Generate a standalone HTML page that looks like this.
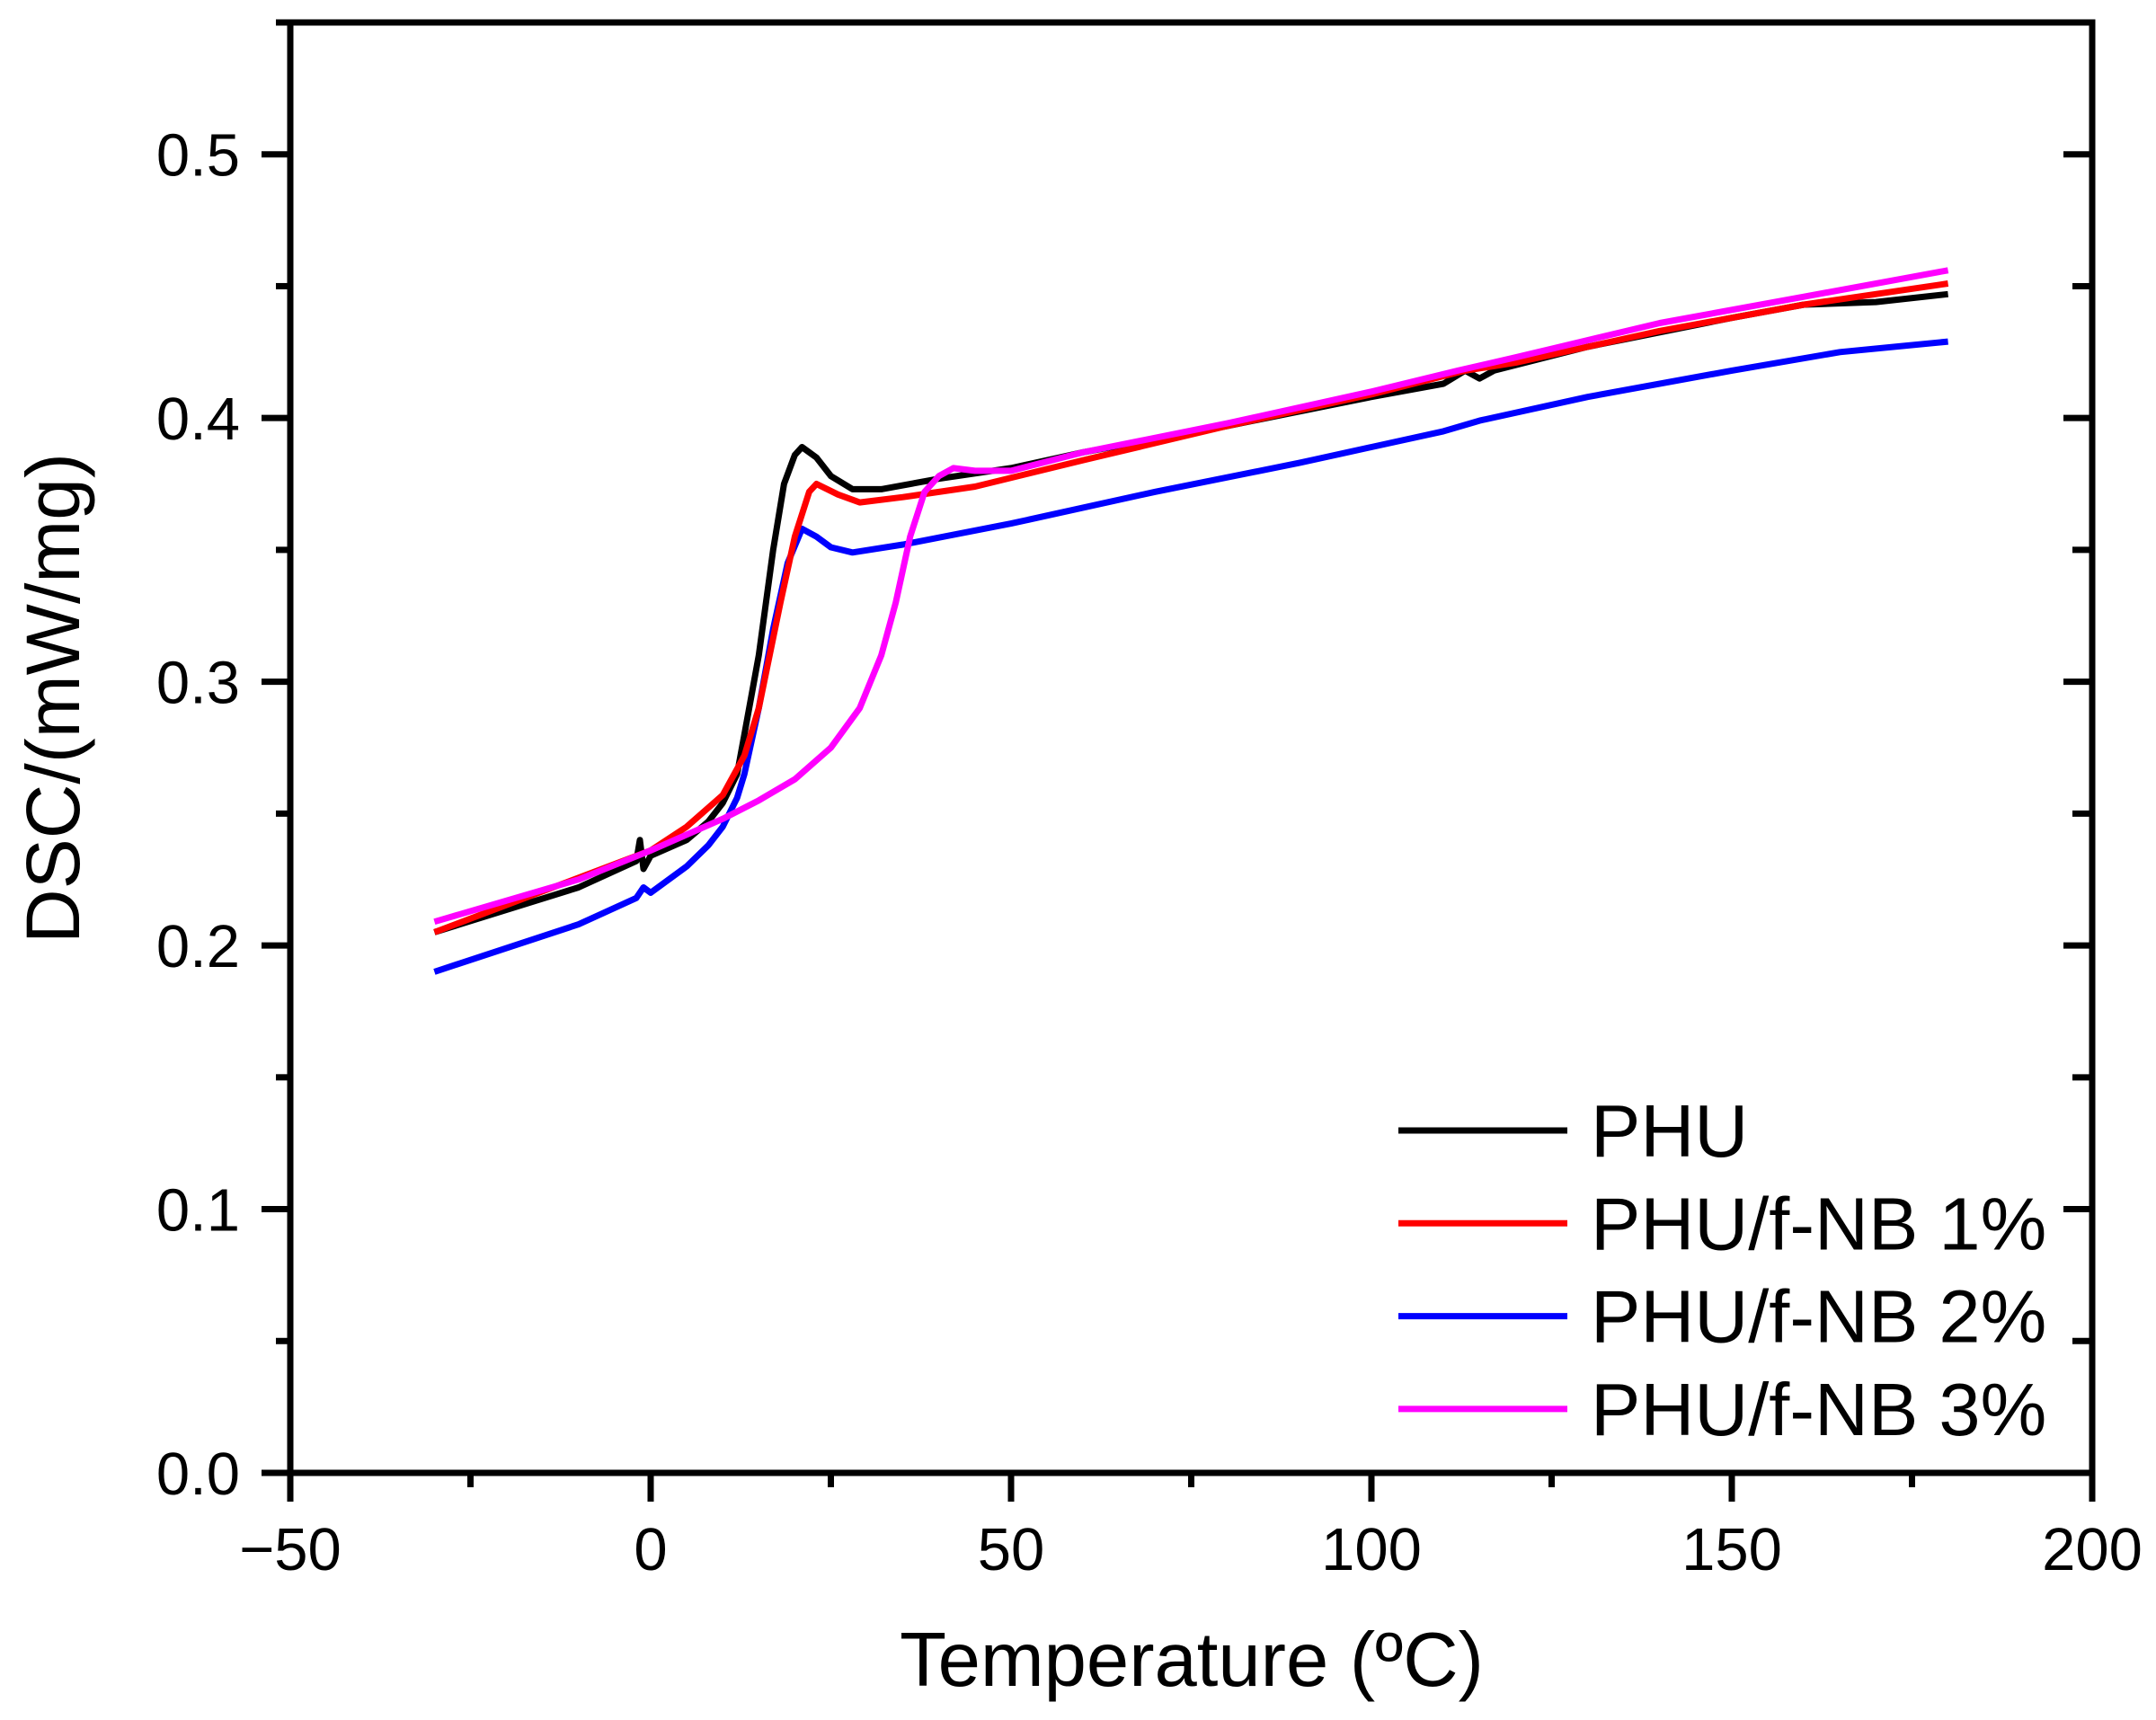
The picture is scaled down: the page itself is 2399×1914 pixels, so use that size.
<!DOCTYPE html>
<html><head><meta charset="utf-8"><style>
html,body{margin:0;padding:0;background:#fff;}
svg{display:block;font-family:"Liberation Sans",Arial,sans-serif;}
</style></head><body>
<svg id="chart" width="2399" height="1914" viewBox="0 0 2399 1914" xmlns="http://www.w3.org/2000/svg">
<g id="marks"></g>
<g id="axes"></g>
<text x="1326" y="1876" font-size="85" text-anchor="middle">Temperature (ºC)</text>
<text transform="translate(88,777) rotate(-90)" font-size="84" text-anchor="middle">DSC/(mW/mg)</text>
<g id="legend"></g>
</svg>
<script>
const xTicks=[-50,0,50,100,150,200];
const yTicks=[0.0,0.1,0.2,0.3,0.4,0.5];
const seriesNames=["PHU","PHU/f-NB 1%","PHU/f-NB 2%","PHU/f-NB 3%"];
const seriesColors=["#000000","#ff0000","#0000ff","#ff00ff"];
const phuT=[-30,-10,-2,-1.5,-1,0,5,8,10,12,13,15,17,18.5,20,21,23,25,28,32,40,50,60,80,100,110,113,115,117,130,150,158,160,170,180];
const phuV=[0.205,0.222,0.232,0.240,0.229,0.234,0.240,0.247,0.254,0.265,0.28,0.31,0.35,0.375,0.386,0.389,0.385,0.378,0.373,0.373,0.377,0.381,0.387,0.397,0.408,0.413,0.418,0.415,0.418,0.427,0.438,0.442,0.443,0.444,0.447];
const nb1T=[-30,0,5,10,13,15,18,20,22,23,26,29,35,45,60,80,100,113,120,140,160,180];
const nb1V=[0.205,0.236,0.245,0.257,0.272,0.29,0.33,0.355,0.372,0.375,0.371,0.368,0.370,0.374,0.384,0.397,0.409,0.418,0.421,0.433,0.443,0.451];
const nb2T=[-30,-10,-2,-1,0,5,8,10,12,13,15,17,19,21,23,25,28,35,50,70,90,100,110,115,130,150,165,180];
const nb2V=[0.190,0.208,0.218,0.222,0.220,0.230,0.238,0.245,0.256,0.265,0.29,0.32,0.345,0.358,0.355,0.351,0.349,0.352,0.360,0.372,0.383,0.389,0.395,0.399,0.408,0.418,0.425,0.429];
const nb3T=[-30,-10,0,5,10,15,20,25,29,32,34,36,38,40,42,45,50,60,80,100,112,120,140,160,180];
const nb3V=[0.209,0.225,0.236,0.242,0.248,0.255,0.263,0.275,0.29,0.31,0.33,0.355,0.372,0.378,0.381,0.380,0.380,0.387,0.398,0.410,0.418,0.423,0.436,0.446,0.456];

const L=323,R=2328,T=25,B=1639,XMIN=-50,XMAX=200,YMIN=0,YMAX=0.55;
function sx(v){return L+(v-XMIN)/(XMAX-XMIN)*(R-L);}
function sy(v){return B-(v-YMIN)/(YMAX-YMIN)*(B-T);}
const NS="http://www.w3.org/2000/svg";
function mk(tag,attrs,parent){const e=document.createElementNS(NS,tag);for(const k in attrs)e.setAttribute(k,attrs[k]);parent.appendChild(e);return e;}

const marks=document.getElementById('marks');
const allT=[phuT,nb1T,nb2T,nb3T],allV=[phuV,nb1V,nb2V,nb3V];
const order=[2,0,1,3];
order.forEach(i=>{
  const d=allT[i].map((t,j)=>(j?'L':'M')+sx(t).toFixed(1)+','+sy(allV[i][j]).toFixed(1)).join(' ');
  const p=mk('path',{d:d,fill:'none',stroke:seriesColors[i],'stroke-width':7,'stroke-linejoin':'round'},marks);
  
  
});

const axes=document.getElementById('axes');
const fr=mk('rect',{x:L,y:T,width:R-L,height:B-T,fill:'none',stroke:'#000','stroke-width':7},axes);


for(let v=-50;v<=200;v+=25){
  const maj=(v%50===0);
  const tk=mk('line',{x1:sx(v),x2:sx(v),y1:B,y2:B+(maj?32:16),stroke:'#000','stroke-width':7},axes);
  
  
}
xTicks.forEach(v=>{
  const t=mk('text',{x:sx(v),y:1747,'font-size':67,'text-anchor':'middle'},axes);
  t.textContent=(v<0?'\u2212':'')+Math.abs(v);
  
  
});
for(let k=0;k<=11;k++){
  const v=k*0.05,maj=(k%2===0);
  const a=mk('line',{x1:L-(maj?32:16),x2:L,y1:sy(v),y2:sy(v),stroke:'#000','stroke-width':7},axes);
  
  
  const b=mk('line',{x1:R-(maj?32:22),x2:R,y1:sy(v),y2:sy(v),stroke:'#000','stroke-width':7},axes);
  
  
}
yTicks.forEach(v=>{
  const t=mk('text',{x:267,y:sy(v)+24,'font-size':67,'text-anchor':'end'},axes);
  t.textContent=v.toFixed(1);
  
  
});

const lg=document.getElementById('legend');
seriesNames.forEach((n,i)=>{
  const y=1258+i*103.3;
  const ln=mk('line',{x1:1556,x2:1744,y1:y,y2:y,stroke:seriesColors[i],'stroke-width':7},lg);
  
  
  const t=mk('text',{x:1770,y:y+29,'font-size':83},lg);
  t.textContent=n;
  
  
});
</script>
</body></html>
